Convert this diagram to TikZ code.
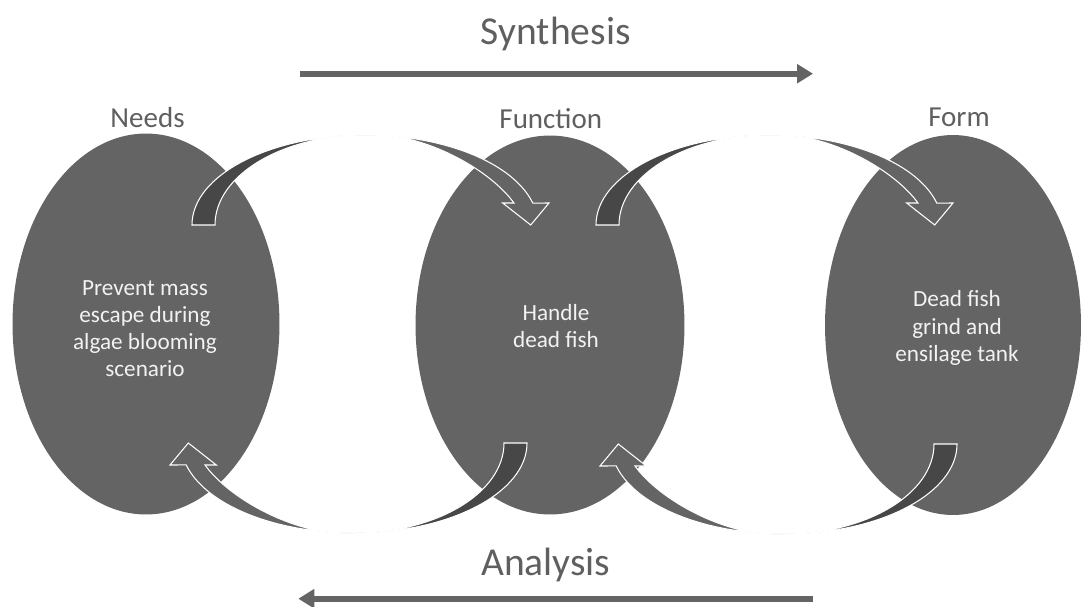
\documentclass[tikz,border=0pt]{standalone}
\usepackage{fontspec}
\setmainfont{Carlito}
\usepackage{tikz}
\usetikzlibrary{arrows.meta, shapes.geometric, positioning}

\definecolor{blobgray}{HTML}{646464}
\definecolor{backgray}{HTML}{474747}
\definecolor{labelgray}{HTML}{5F5F5F}
\definecolor{textwhite}{HTML}{F2F2F2}

\tikzset{
  blob/.style={ellipse, fill=blobgray, inner sep=0pt, minimum width=5.34cm, minimum height=7.62cm},
  inside/.style={align=center, text=textwhite, inner sep=0pt, font=\fontsize{13.2}{15.5}\selectfont},
  head/.style={text=labelgray, inner sep=0pt, font=\fontsize{16.5}{20}\selectfont},
  title/.style={text=labelgray, inner sep=0pt, font=\fontsize{22.5}{27}\selectfont},
  flow/.style={blobgray, line width=3.4pt, -{Triangle[length=0.32cm, width=0.37cm]}},
  % curved block arrow: dark back band, then front band with its head
  bend arrow/.pic={
    \fill[backgray, draw=white, line width=0.6pt] (-167.5,-109)
      arc[start angle=180, end angle=270, x radius=173, y radius=90]
      arc[start angle=270, end angle=180, x radius=150, y radius=90] -- cycle;
    \fill[blobgray, draw=white, line width=0.6pt] (5.5,-199)
      arc[start angle=270, end angle=345.9, x radius=173, y radius=90]
      -- (189.5,-131) -- (171.2,-109) -- (143.2,-131) -- (154.5,-131)
      .. controls (130.5,-164) and (70.5,-197) .. (20.5,-199) -- cycle;
  }
}

\begin{document}
\begin{tikzpicture}[x=0.02cm, y=-0.02cm]
  \useasboundingbox (0,0) rectangle (1082,606);

  % Ellipses
  \node[blob] (needs) at (146,324) {};
  \node[blob, minimum width=5.38cm, minimum height=7.58cm] (function) at (550,325) {};
  \node[blob, minimum width=5.12cm, minimum height=7.6cm] (form) at (953,325) {};

  % Curved arrows between the ellipses
  \coordinate (loopA) at (359.5,334);
  \coordinate (loopB) at (763.5,334);
  \coordinate (loopC) at (789.5,335);
  \pic at (loopA) {bend arrow};
  \pic at (loopB) {bend arrow};
  \pic[rotate=180] at (loopA) {bend arrow};
  \pic[rotate=180] at (loopC) {bend arrow};

  % Texts
  \node[inside] (needstext) at (145,328.5) {Prevent mass\\escape during\\algae blooming\\scenario};
  \node[inside] (functiontext) at (556,326) {Handle\\dead fish};
  \node[inside] (formtext) at (957,328) {Dead fish\\grind and\\ensilage tank};

  \node[head, anchor=base] (needslabel) at (147.5,127.3) {Needs};
  \node[head, anchor=base] (functionlabel) at (550.8,128) {Function};
  \node[head, anchor=base] (formlabel) at (959,126.7) {Form};

  % Synthesis / Analysis
  \node[title, anchor=base] (synthesis) at (555.8,44.3) {Synthesis};
  \node[title, anchor=base] (analysis) at (545.8,575) {Analysis};
  \coordinate (synthstart) at (300,73.7);
  \coordinate (synthend) at (813,73.7);
  \coordinate (anastart) at (813,598.7);
  \coordinate (anaend) at (298.3,598.7);
  \draw[flow] (synthstart) -- (synthend);
  \draw[flow] (anastart) -- (anaend);
\end{tikzpicture}
\end{document}
